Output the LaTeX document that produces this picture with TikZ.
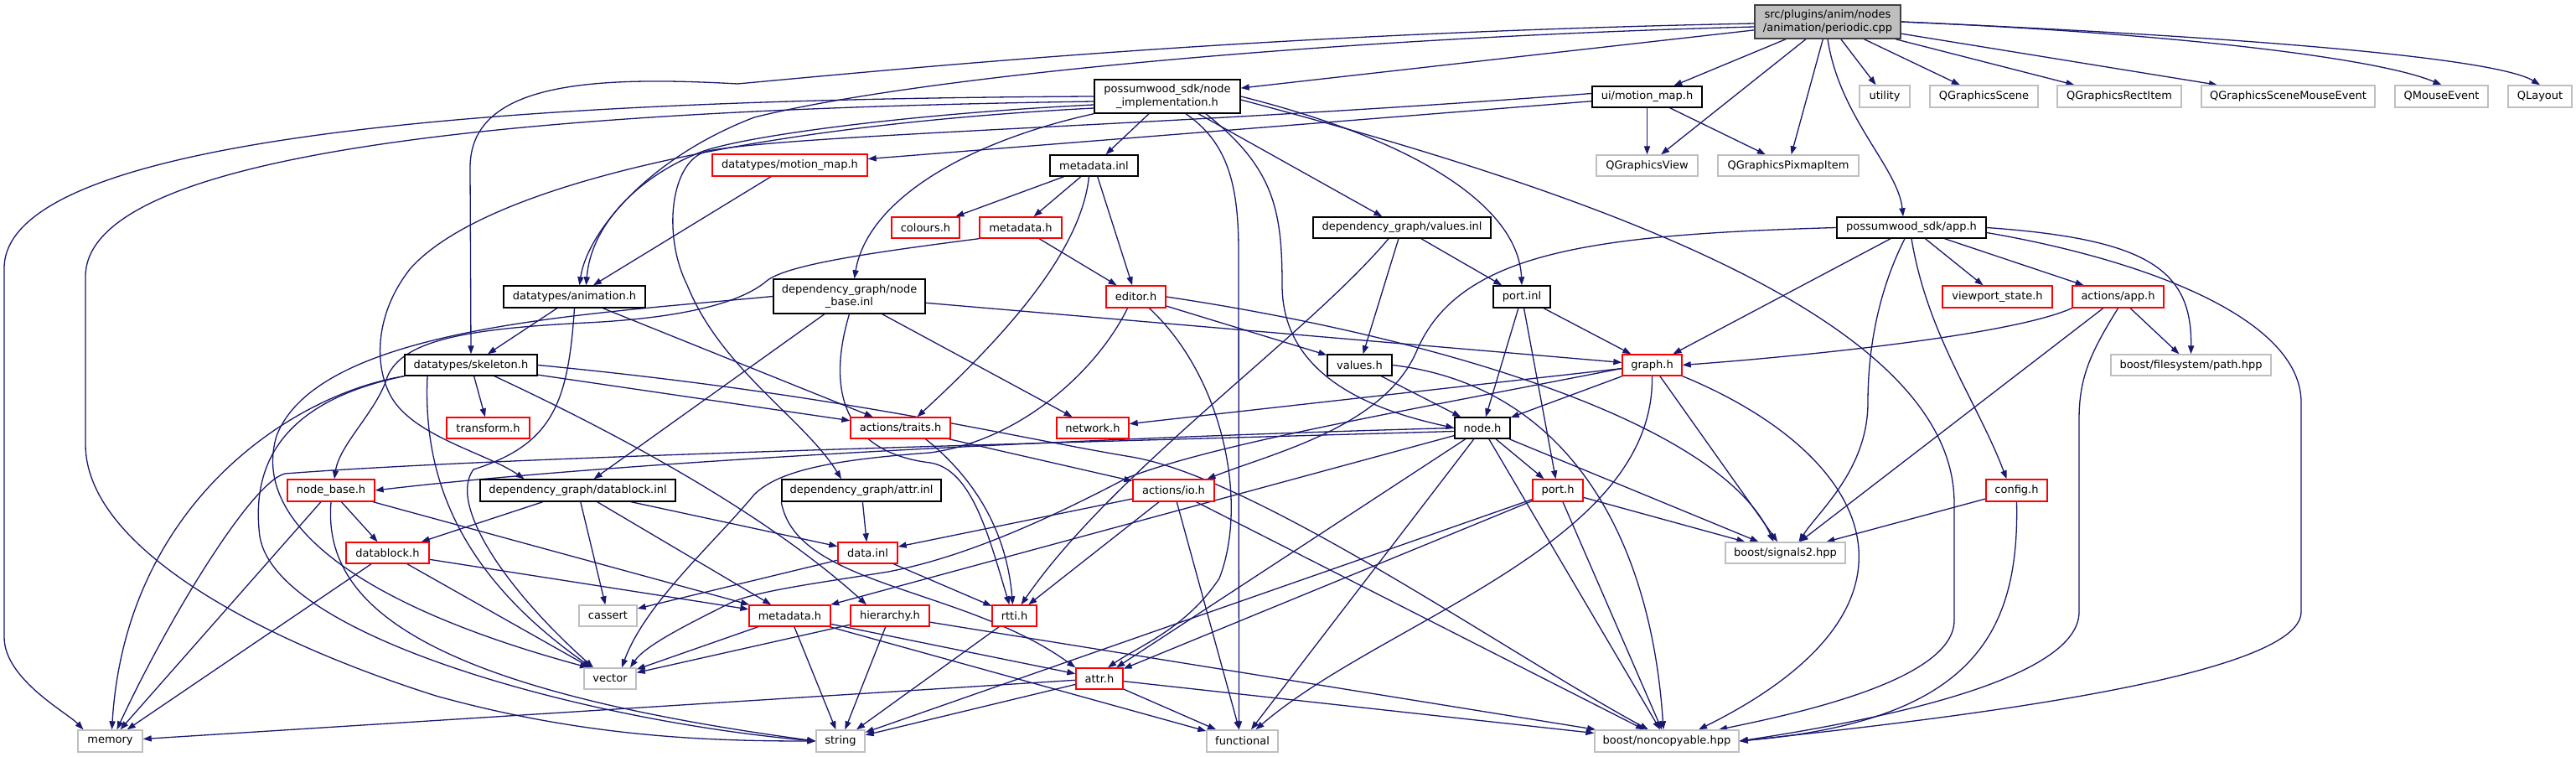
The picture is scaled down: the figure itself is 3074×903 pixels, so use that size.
\documentclass[tikz,border=0pt]{standalone}
\usepackage{fontspec}
\usetikzlibrary{arrows.meta,backgrounds,calc}
\newfontfamily\dxfam{DejaVu Sans}
\newcommand\dxfont{\dxfam\fontsize{6.5}{7.6}\selectfont}
\definecolor{edgeblue}{HTML}{191970}
\definecolor{extgray}{HTML}{BFBFBF}
\definecolor{truncred}{HTML}{FF0000}
\definecolor{pergray}{HTML}{BFBFBF}
\definecolor{perborder}{HTML}{404040}
\newcommand\mkbox[7]{\node[#1,minimum width=#5pt,minimum height=#6pt] (#2) at (#3,#4) {#7};}
\tikzset{
  box/.style={draw, rectangle, fill=white, inner sep=0pt, font=\dxfont, line width=0.7pt, align=center},
  doc/.style={box, draw=black},
  trunc/.style={box, draw=truncred},
  ext/.style={box, draw=extgray},
  perbox/.style={box, draw=perborder, fill=pergray},
  e/.style={draw=edgeblue, line width=0.65pt, -{Triangle[length=5pt,width=3.6pt]}},
}
\begin{document}
\begin{tikzpicture}[x=0.5pt,y=-0.5pt]
\useasboundingbox (0,0) rectangle (3074,903);
% ---------- nodes ----------
\mkbox{perbox}{per}{2181}{26}{87}{20}{src/plugins/anim/nodes\\/animation/periodic.cpp}
\mkbox{doc}{ni}{1393}{115}{87}{20}{possumwood\_sdk/node\\\_implementation.h}
\mkbox{doc}{uimm}{1965.5}{115.5}{65.5}{12.5}{ui/motion\_map.h}
\mkbox{ext}{util}{2249}{115}{30}{13}{utility}
\mkbox{ext}{qgs}{2367.5}{115}{64.5}{13}{QGraphicsScene}
\mkbox{ext}{qgri}{2529}{115}{74}{13}{QGraphicsRectItem}
\mkbox{ext}{qgsme}{2730.5}{115}{103.5}{13}{QGraphicsSceneMouseEvent}
\mkbox{ext}{qme}{2913.5}{115}{55.5}{13}{QMouseEvent}
\mkbox{ext}{qlay}{3031}{115}{38}{13}{QLayout}
\mkbox{ext}{qgv}{1965.5}{197.5}{60.5}{12.5}{QGraphicsView}
\mkbox{ext}{qgpi}{2134}{197.5}{84}{12.5}{QGraphicsPixmapItem}
\mkbox{trunc}{dtmm}{942.5}{197}{92.5}{13}{datatypes/motion\_map.h}
\mkbox{doc}{mdinl}{1305.5}{197.5}{52.5}{12.5}{metadata.inl}
\mkbox{trunc}{colours}{1104.5}{271.5}{40.5}{12.5}{colours.h}
\mkbox{trunc}{mdh1}{1218}{271.5}{49}{12.5}{metadata.h}
\mkbox{doc}{valinl}{1673}{271.5}{106}{12.5}{dependency\_graph/values.inl}
\mkbox{doc}{app}{2281}{271.5}{89}{12.5}{possumwood\_sdk/app.h}
\mkbox{doc}{nbinl}{1013.5}{353.5}{90.5}{20.5}{dependency\_graph/node\\\_base.inl}
\mkbox{trunc}{editor}{1355.5}{354}{35.5}{13}{editor.h}
\mkbox{doc}{portinl}{1816}{354}{34}{13}{port.inl}
\mkbox{doc}{anim}{685.5}{354}{84.5}{13}{datatypes/animation.h}
\mkbox{trunc}{vps}{2383.5}{354}{65.5}{13}{viewport\_state.h}
\mkbox{trunc}{actapp}{2527.5}{354}{54.5}{13}{actions/app.h}
\mkbox{doc}{skel}{562}{435.5}{79}{12.5}{datatypes/skeleton.h}
\mkbox{doc}{values}{1622.5}{435.5}{38.5}{12.5}{values.h}
\mkbox{trunc}{graph}{1971.5}{435.5}{35.5}{12.5}{graph.h}
\mkbox{ext}{fspath}{2614.5}{435.5}{95.5}{12.5}{boost/filesystem/path.hpp}
\mkbox{trunc}{transform}{582.5}{510.5}{49.5}{12.5}{transform.h}
\mkbox{trunc}{traits}{1074.5}{510.5}{59.5}{12.5}{actions/traits.h}
\mkbox{trunc}{network}{1304}{510.5}{43}{12.5}{network.h}
\mkbox{doc}{node}{1769}{510.5}{33}{12.5}{node.h}
\mkbox{trunc}{nodebase}{395}{585}{52}{13}{node\_base.h}
\mkbox{doc}{dbinl}{689.5}{585}{116.5}{13}{dependency\_graph/datablock.inl}
\mkbox{doc}{attrinl}{1028}{585}{95}{13}{dependency\_graph/attr.inl}
\mkbox{trunc}{io}{1400.5}{585}{48.5}{13}{actions/io.h}
\mkbox{trunc}{porth}{1859}{585}{30}{13}{port.h}
\mkbox{trunc}{config}{2406.5}{585}{36.5}{13}{config.h}
\mkbox{trunc}{datablock}{462.5}{659.5}{49.5}{12.5}{datablock.h}
\mkbox{trunc}{datainl}{1035.5}{659.5}{35.5}{12.5}{data.inl}
\mkbox{ext}{signals2}{2130.5}{659.5}{71.5}{12.5}{boost/signals2.hpp}
\mkbox{ext}{cassert}{725.5}{734.5}{34.5}{12.5}{cassert}
\mkbox{trunc}{mdh2}{942.5}{734.5}{48.5}{12.5}{metadata.h}
\mkbox{trunc}{hier}{1062}{734.5}{47}{12.5}{hierarchy.h}
\mkbox{trunc}{rtti}{1210.5}{734.5}{26.5}{12.5}{rtti.h}
\mkbox{ext}{vector}{728}{809.5}{31}{12.5}{vector}
\mkbox{trunc}{attr}{1312}{809.5}{28}{12.5}{attr.h}
\mkbox{ext}{memory}{131.5}{884}{38.5}{13}{memory}
\mkbox{ext}{string}{1003}{884}{29}{13}{string}
\mkbox{ext}{functional}{1482.5}{884}{42.5}{13}{functional}
\mkbox{ext}{noncopy}{1989}{884}{86}{13}{boost/noncopyable.hpp}
% ---------- edges ----------
\begin{scope}[on background layer]
\fill[white] (0,0) rectangle (3074,903);
% periodic.cpp
\draw[e] (per) -- (ni);
\draw[e] (per) -- (uimm);
\draw[e] (per) -- (qgv);
\draw[e] (per) -- (qgpi);
\draw[e] (per) -- (util);
\draw[e] (per) -- (qgs);
\draw[e] (per) -- (qgri);
\draw[e] (per) -- (qgsme);
\draw[e] (per.east) .. controls (2600,40) and (2840,70) .. (qme.north);
\draw[e] (per.east) .. controls (2700,45) and (2980,70) .. (qlay.north);
\draw[e] (per.south) .. controls (2195,140) and (2265,200) .. ([xshift=-5pt]app.north);
\draw[e] ([yshift=-3pt]per.west) .. controls (1600,45) and (1100,90) .. (900,140) .. controls (770,190) and (700,280) .. ([xshift=3pt]anim.north);
\draw[e] ([yshift=-1pt]per.west) .. controls (1500,40) and (1100,80) .. (880,100) .. controls (700,90) and (561,100) .. (561,200) -- (skel.north);
% node_implementation.h
\draw[e] (ni.west) .. controls (700,118) and (5,150) .. (5,320) -- (5,760) .. controls (5,810) and (80,850) .. ([xshift=-16pt]memory.north);
\draw[e] ([yshift=-3pt]ni.west) .. controls (700,130) and (102,170) .. (102,330) -- (102,530) .. controls (102,650) and (300,760) .. (520,830) .. controls (700,880) and (850,884) .. (string.west);
\draw[e] (ni.south west) .. controls (1150,170) and (1035,240) .. ([xshift=3pt]nbinl.north);
\draw[e] (ni) -- (mdinl);
\draw[e] ([xshift=11pt]ni.south) .. controls (1465,170) and (1478,220) .. (1478,300) -- ([xshift=-2pt]functional.north);
\draw[e] ([xshift=23pt]ni.south) .. controls (1520,200) and (1530,250) .. (1530,340) .. controls (1530,450) and (1640,490) .. (node.west);
\draw[e] (ni) -- (valinl);
\draw[e] (ni.east) .. controls (1700,170) and (1812,250) .. (portinl.north);
\draw[e] ([yshift=-2pt]ni.east) .. controls (1900,230) and (2332,380) .. (2332,600) -- (2332,740) .. controls (2332,810) and (2150,850) .. ([xshift=31pt]noncopy.north);
\draw[e] ([yshift=-5pt]ni.west) .. controls (1100,135) and (900,160) .. (840,180) .. controls (760,210) and (705,270) .. ([xshift=7pt]anim.north);
\draw[e] ([yshift=-7pt]ni.west) .. controls (900,150) and (580,220) .. (490,320) .. controls (450,370) and (445,430) .. (465,470) .. controls (490,520) and (580,540) .. ([xshift=-32pt]dbinl.north);
% ui/motion_map.h
\draw[e] (uimm) -- (qgv);
\draw[e] (uimm) -- (qgpi);
\draw[e] (uimm) -- (dtmm);
\draw[e] ([yshift=2pt]uimm.west) .. controls (1400,150) and (950,160) .. (845,180) .. controls (800,190) and (790,280) .. (820,340) .. controls (860,440) and (960,500) .. ([xshift=-12pt]attrinl.north);
\draw[e] (dtmm) -- (anim);
% metadata.inl / metadata.h
\draw[e] (mdinl) -- (colours);
\draw[e] (mdinl) -- (mdh1);
\draw[e] (mdinl) -- (editor);
\draw[e] ([xshift=-3pt]mdinl.south) .. controls (1290,300) and (1200,400) .. ([xshift=10pt]traits.north);
\draw[e] (mdh1) -- (editor);
\draw[e] (mdh1.south west) .. controls (1050,300) and (940,315) .. (915,335) .. controls (880,365) and (800,380) .. (700,385) .. controls (560,392) and (480,405) .. (462,450) .. controls (450,490) and (405,530) .. ([xshift=2pt]nodebase.north);
% values.inl
\draw[e] (valinl) -- (portinl);
\draw[e] (valinl) -- (values);
\draw[e] ([xshift=-8pt]valinl.south) .. controls (1560,400) and (1330,560) .. ([xshift=4pt]rtti.north);
% node_base.inl
\draw[e] (nbinl) -- (dbinl);
\draw[e] (nbinl) -- (network);
\draw[e] (nbinl) -- (graph);
\draw[e] (nbinl.west) .. controls (700,375) and (380,390) .. (330,520) .. controls (300,620) and (420,720) .. ([xshift=-13pt]vector.north);
\draw[e] (nbinl.south) .. controls (985,470) and (1010,540) .. (1110,552) .. controls (1160,560) and (1180,640) .. ([xshift=-3pt]rtti.north);
% editor.h
\draw[e] (editor) -- (values);
\draw[e] ([xshift=-5pt]editor.south) .. controls (1310,440) and (1220,525) .. (1110,540) .. controls (1000,548) and (930,560) .. (900,590) .. controls (850,650) and (770,720) .. ([xshift=7pt]vector.north);
\draw[e] ([xshift=8pt]editor.south) .. controls (1460,450) and (1490,600) .. (1455,690) .. controls (1415,750) and (1360,770) .. ([xshift=5pt]attr.north);
\draw[e] (editor.east) .. controls (1700,400) and (2050,500) .. ([xshift=-7pt]signals2.north);
% port.inl, values.h
\draw[e] (portinl) -- (graph);
\draw[e] (portinl) -- (node);
\draw[e] (portinl) -- (porth);
\draw[e] (values) -- (node);
\draw[e] (values.east) .. controls (1870,460) and (1970,640) .. ([xshift=-2pt]noncopy.north);
% graph.h
\draw[e] (graph) -- (network);
\draw[e] (graph) -- (node);
\draw[e] ([yshift=-2pt]graph.west) .. controls (1650,495) and (1450,530) .. (1345,570) .. controls (1250,620) and (1150,665) .. (1060,682) .. controls (980,695) and (900,705) .. (870,720) .. controls (820,745) and (770,770) .. ([xshift=12pt]vector.north);
\draw[e] (graph.south) .. controls (1975,650) and (1650,740) .. ([xshift=8pt]functional.north);
\draw[e] (graph) -- (signals2);
\draw[e] (graph.south east) .. controls (2230,540) and (2330,720) .. ([xshift=19pt]noncopy.north);
% app.h
\draw[e] (app) -- (graph);
\draw[e] (app.west) .. controls (1900,280) and (1740,300) .. (1690,420) .. controls (1650,510) and (1520,540) .. ([xshift=20pt]io.north);
\draw[e] ([xshift=-4pt]app.south) .. controls (2240,350) and (2229,420) .. (2229,480) .. controls (2229,560) and (2170,610) .. ([xshift=8pt]signals2.north);
\draw[e] (app.south) .. controls (2300,400) and (2360,480) .. ([xshift=-6pt]config.north);
\draw[e] (app) -- (vps);
\draw[e] (app) -- (actapp);
\draw[e] (app.east) .. controls (2560,285) and (2616,320) .. (fspath.north);
\draw[e] ([yshift=-3pt]app.east) .. controls (2560,310) and (2746,380) .. (2746,480) -- (2746,730) .. controls (2746,810) and (2300,860) .. (noncopy.east);
% actions/app.h
\draw[e] (actapp.south west) .. controls (2400,400) and (2150,425) .. (graph.east);
\draw[e] (actapp) -- (fspath);
\draw[e] (actapp) -- (signals2);
\draw[e] (actapp.south) .. controls (2495,420) and (2481,450) .. (2481,500) -- (2481,730) .. controls (2481,800) and (2300,850) .. (noncopy.east);
% config.h
\draw[e] (config) -- (signals2);
\draw[e] (config.south) .. controls (2410,760) and (2350,860) .. (noncopy.east);
% animation.h
\draw[e] (anim) -- (skel);
\draw[e] (anim.south) .. controls (678,480) and (660,530) .. (565,560) .. controls (535,600) and (600,700) .. ([xshift=-10pt]vector.north);
\draw[e] (anim) -- (traits);
% skeleton.h
\draw[e] (skel) -- (transform);
\draw[e] (skel) -- (traits);
\draw[e] (skel.south west) .. controls (350,470) and (150,600) .. ([xshift=1pt]memory.north);
\draw[e] (skel.south west) .. controls (330,480) and (300,560) .. (310,640) .. controls (330,760) and (700,860) .. (string.west);
\draw[e] ([xshift=-26pt]skel.south) .. controls (505,560) and (540,680) .. ([xshift=-11pt]vector.north);
\draw[e] ([xshift=14pt]skel.south) .. controls (700,500) and (900,600) .. ([xshift=-14pt]hier.north);
\draw[e] (skel.east) .. controls (1000,470) and (1200,520) .. (1350,545) .. controls (1500,570) and (1800,780) .. ([xshift=-11pt]noncopy.north);
% node_base.h
\draw[e] (nodebase) -- (datablock);
\draw[e] (nodebase) -- (memory);
\draw[e] (nodebase.south) .. controls (385,720) and (500,820) .. (string.west);
\draw[e] (nodebase) -- (mdh2);
% datablock.inl, datablock.h
\draw[e] (dbinl) -- (datablock);
\draw[e] (dbinl) -- (cassert);
\draw[e] (dbinl) -- (mdh2);
\draw[e] (dbinl) -- (datainl);
\draw[e] (datablock) -- (memory);
\draw[e] (datablock) -- (vector);
\draw[e] (datablock) -- (mdh2);
% attr.inl
\draw[e] (attrinl) -- (datainl);
\draw[e] (attrinl.south west) .. controls (950,700) and (1150,700) .. (attr.north west);
% io.h, traits.h, data.inl
\draw[e] (io) -- (datainl);
\draw[e] (io) -- (rtti);
\draw[e] (io) -- (functional);
\draw[e] (io) -- (noncopy);
\draw[e] (traits) -- (io);
\draw[e] ([xshift=15pt]traits.south) .. controls (1150,560) and (1200,620) .. ([xshift=-1pt]rtti.north);
\draw[e] (datainl) -- (cassert);
\draw[e] (datainl) -- (rtti);
% node.h
\draw[e] (node.west) .. controls (1200,525) and (700,555) .. (nodebase.east);
\draw[e] ([yshift=-2pt]node.west) .. controls (1200,530) and (600,545) .. (340,565) .. controls (300,575) and (200,740) .. ([xshift=4pt]memory.north);
\draw[e] (node) -- (mdh2);
\draw[e] (node) -- (porth);
\draw[e] (node) -- (attr);
\draw[e] (node) -- (functional);
\draw[e] (node) -- (noncopy);
\draw[e] (node) -- (signals2);
% port.h
\draw[e] (porth) -- (attr);
\draw[e] (porth) -- (string);
\draw[e] (porth) -- (noncopy);
\draw[e] (porth) -- (signals2);
% metadata.h (lower), hierarchy.h, rtti.h, attr.h
\draw[e] (mdh2) -- (vector);
\draw[e] (mdh2) -- (string);
\draw[e] (mdh2) -- (attr);
\draw[e] (mdh2) -- (functional);
\draw[e] (hier) -- (vector);
\draw[e] (hier) -- (string);
\draw[e] (hier) -- (noncopy);
\draw[e] (rtti) -- (string);
\draw[e] (attr) -- (memory);
\draw[e] (attr) -- (string);
\draw[e] (attr) -- (functional);
\draw[e] (attr) -- (noncopy);
\end{scope}
\end{tikzpicture}
\end{document}
